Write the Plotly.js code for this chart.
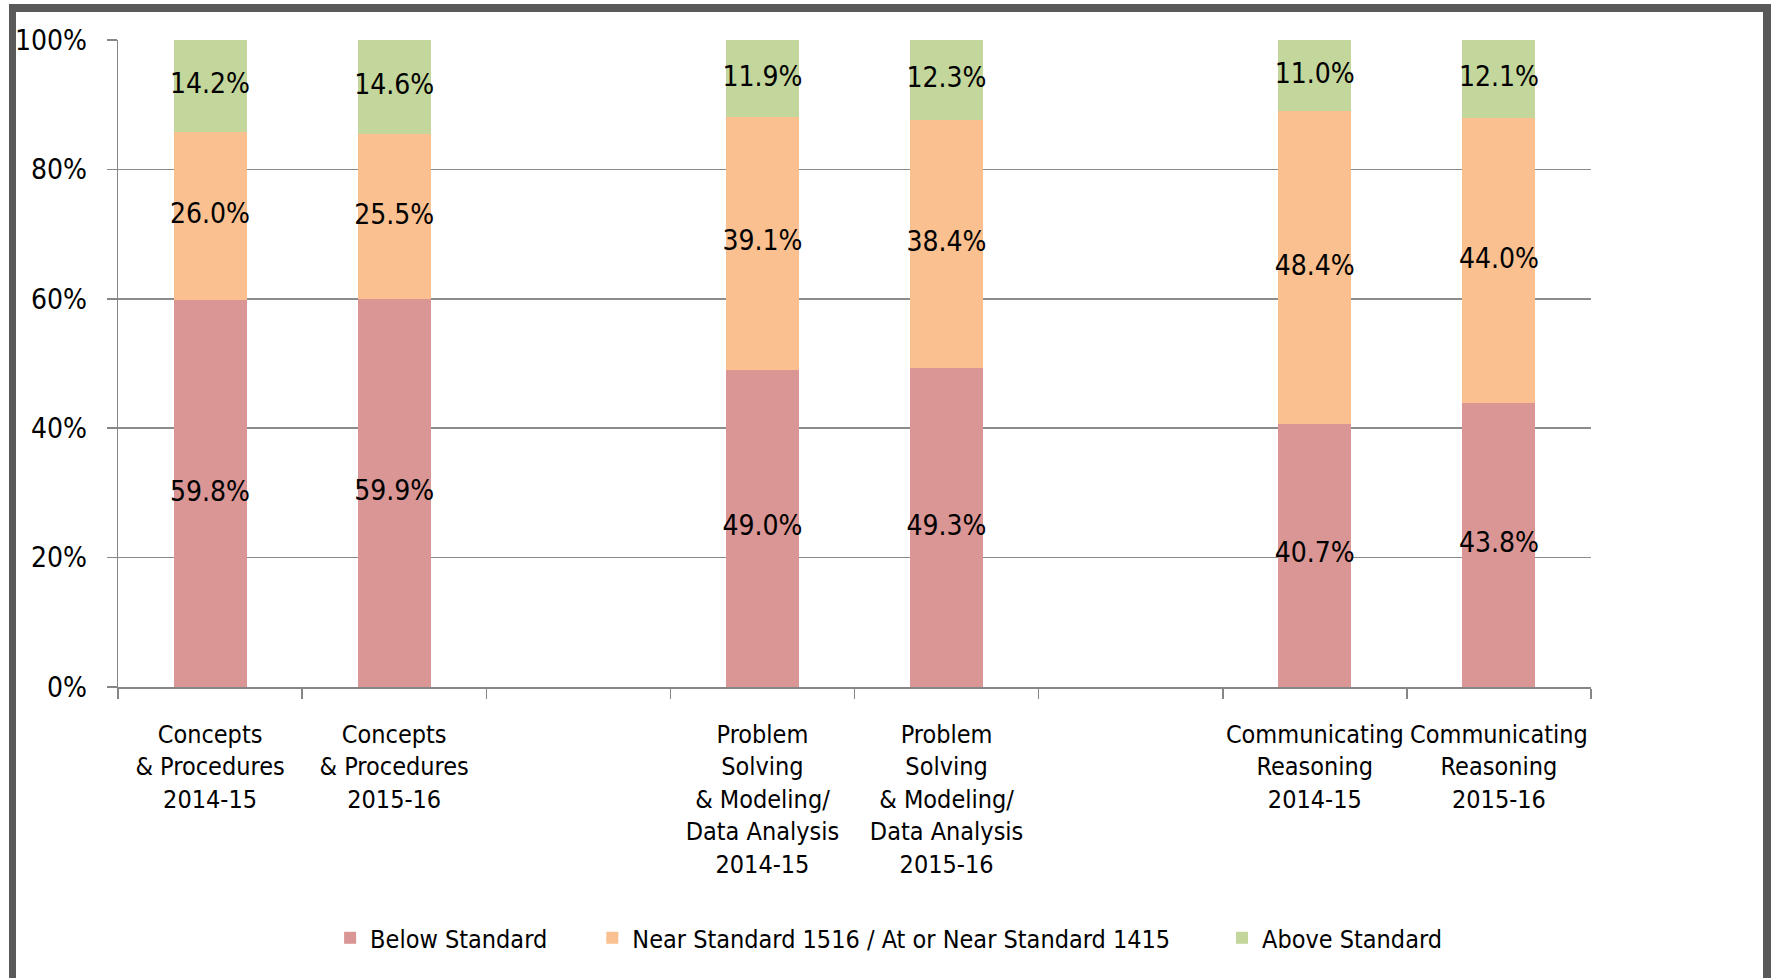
<!DOCTYPE html>
<html>
<head>
<meta charset="utf-8">
<script src="https://cdn.plot.ly/plotly-3.0.1.min.js"></script>
<style>
html,body{margin:0;padding:0;background:#fff;width:1775px;height:978px;overflow:hidden;}
#chart{position:absolute;left:0;top:0;width:1775px;height:978px;}
#frame{position:absolute;left:9px;top:4px;width:1747px;height:1000px;border-left:7px solid #595959;border-top:8px solid #595959;border-right:8px solid #595959;pointer-events:none;}
</style>
</head>
<body>
<div id="chart"></div>
<div id="frame"></div>
<script>
// ---- data ----
const categories = [
  'Concepts<br>& Procedures<br>2014-15',
  'Concepts<br>& Procedures<br>2015-16',
  ' ',
  'Problem<br>Solving<br>& Modeling/<br>Data Analysis<br>2014-15',
  'Problem<br>Solving<br>& Modeling/<br>Data Analysis<br>2015-16',
  '  ',
  'Communicating<br>Reasoning<br>2014-15',
  'Communicating<br>Reasoning<br>2015-16'
];
const seriesNames = ['Below Standard', 'Near Standard 1516 / At or Near Standard 1415', 'Above Standard'];
const belowStandard = [59.8, 59.9, null, 49.0, 49.3, null, 40.7, 43.8];
const nearStandard  = [26.0, 25.5, null, 39.1, 38.4, null, 48.4, 44.0];
const aboveStandard = [14.2, 14.6, null, 11.9, 12.3, null, 11.0, 12.1];
const yTickVals = [0, 20, 40, 60, 80, 100];
const yTickText = ['0%', '20%', '40%', '60%', '80%', '100%'];

// ---- styling ----
const FONT = 'DejaVu Sans Condensed, Liberation Sans, sans-serif';
const colors = ['#D99694', '#FAC090', '#C3D69B'];
const series = [belowStandard, nearStandard, aboveStandard];
const legends = ['legend', 'legend2', 'legend3'];

const traces = [];
series.forEach((vals, i) => {
  traces.push({
    type: 'bar', name: seriesNames[i], x: categories, y: vals,
    marker: {color: colors[i], line: {width: 0}},
    legend: legends[i], hoverinfo: 'name+y'
  });
});

// data labels centred in each (normalised) segment
const totals = categories.map((c, k) => series.reduce((s, v) => s + (v[k] || 0), 0));
series.forEach((vals, i) => {
  const mids = vals.map((v, k) => {
    if (v === null) return null;
    let base = 0;
    for (let j = 0; j < i; j++) base += series[j][k];
    return (base + v / 2) / totals[k] * 100;
  });
  traces.push({
    type: 'scatter', mode: 'text', x: categories, y: mids,
    text: vals.map(v => v === null ? '' : v.toFixed(1) + '%'),
    textposition: 'middle center',
    textfont: {family: FONT, size: 28, color: '#000'},
    showlegend: false, hoverinfo: 'skip', cliponaxis: false
  });
});

const legendBase = {
  orientation: 'h', yanchor: 'middle', y: -0.388, xanchor: 'left',
  font: {family: FONT, size: 25, color: '#000'}, bgcolor: 'rgba(0,0,0,0)', borderwidth: 0
};

const layout = {
  width: 1775, height: 978,
  margin: {l: 118, r: 184, t: 40, b: 291, pad: 0},
  paper_bgcolor: '#fff', plot_bgcolor: '#fff',
  barmode: 'stack', barnorm: 'percent', bargap: 0.603,
  font: {family: FONT, color: '#000'},
  showlegend: true,
  legend:  Object.assign({}, legendBase, {x: 0.144}),
  legend2: Object.assign({}, legendBase, {x: 0.322}),
  legend3: Object.assign({}, legendBase, {x: 0.7495}),
  xaxis: {
    type: 'category', categoryorder: 'array', categoryarray: categories,
    tickson: 'boundaries', ticks: 'outside', ticklen: 10, tickwidth: 1.5, tickcolor: '#868686',
    showline: true, linecolor: '#868686', linewidth: 1.5,
    showgrid: false, zeroline: false, tickangle: 0,
    tickfont: {family: FONT, size: 25, color: '#000'},
    ticklabelstandoff: 24, fixedrange: true
  },
  yaxis: {
    range: [0, 100], tickmode: 'array', tickvals: yTickVals, ticktext: yTickText,
    ticks: 'outside', ticklen: 10, tickwidth: 1.5, tickcolor: '#868686',
    showline: true, linecolor: '#868686', linewidth: 1.5,
    showgrid: true, gridcolor: '#8c8c8c', gridwidth: 1.5, zeroline: false,
    tickfont: {family: FONT, size: 28, color: '#000'},
    ticklabelstandoff: 14, fixedrange: true
  }
};

Plotly.newPlot('chart', traces, layout, {displayModeBar: false, staticPlot: true});
</script>
</body>
</html>
